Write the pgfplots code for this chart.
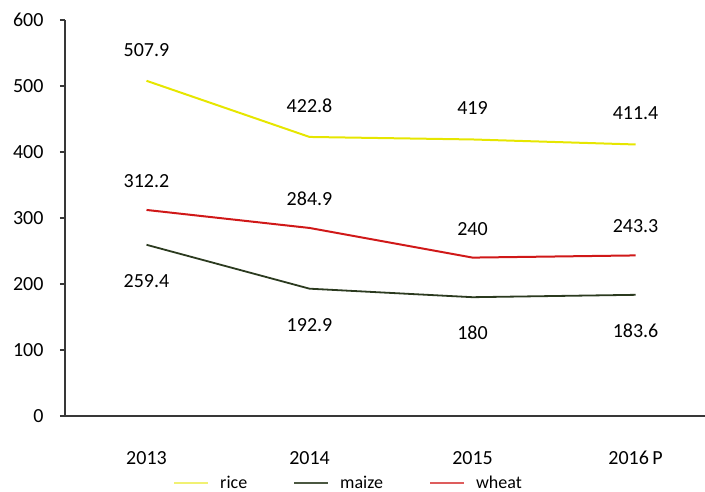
\documentclass[border=0pt]{standalone}
\usepackage{pgfplots}
\pgfplotsset{compat=1.18}
\usepackage{fontspec}
\setmainfont{Carlito}

\definecolor{riceC}{HTML}{E6E600}
\definecolor{maizeC}{HTML}{2B3A1F}
\definecolor{wheatC}{HTML}{D01818}
\definecolor{axisC}{HTML}{383838}

\begin{document}
\begin{tikzpicture}
\begin{axis}[
  scale only axis, width=640pt, height=396pt,
  xmin=-0.5, xmax=3.426, ymin=0, ymax=600,
  axis x line=bottom, axis y line=left,
  axis line style={-, color=axisC, line width=1.4pt},
  clip=false,
  /pgf/number format/assume math mode=true,
  font=\fontsize{20}{24}\selectfont,
  ytick={0,100,...,600},
  ytick style={color=axisC, line width=1.2pt},
  tick align=outside, major tick length=5pt,
  yticklabel style={anchor=east, xshift=-13pt},
  xtick={0,1,2,3},
  xticklabels={2013,2014,2015,2016\,P},
  xtick style={draw=none},
  xticklabel style={anchor=base, yshift=-44pt},
  extra x ticks={-0.5,0.5,1.5,2.5},
  extra x tick labels={},
  extra x tick style={tick style={color=axisC, line width=1.2pt}, major tick length=9pt},
  nodes near coords, point meta=explicit symbolic,
  every node near coord/.append style={anchor=center, font=\fontsize{20}{24}\selectfont, text=black},
  legend columns=3,
  legend style={draw=none, fill=none, at={(0.443,-0.169)}, anchor=center,
    font=\fontsize{18}{21}\selectfont,
    /tikz/every odd column/.append style={column sep=9pt},
    /tikz/every even column/.append style={column sep=44pt}},
  legend image code/.code={\draw[#1] (0pt,0pt) -- (34pt,0pt);},
]
% rice
\addplot[riceC, line width=2pt, forget plot,
  every node near coord/.append style={yshift=31pt}]
  coordinates {(0,507.9)[507.9] (1,422.8)[422.8] (2,419)[419] (3,411.4)[411.4]};
% maize
\addplot[maizeC, line width=1.8pt, forget plot,
  every node near coord/.append style={yshift=-36pt}]
  coordinates {(0,259.4)[259.4] (1,192.9)[192.9] (2,180)[180] (3,183.6)[183.6]};
% wheat
\addplot[wheatC, line width=2pt, forget plot,
  every node near coord/.append style={yshift=29pt}]
  coordinates {(0,312.2)[312.2] (1,284.9)[284.9] (2,240)[240] (3,243.3)[243.3]};

\addlegendimage{color=riceC!55, line width=2pt}
\addlegendentry{rice}
\addlegendimage{color=maizeC!85, line width=2pt}
\addlegendentry{maize}
\addlegendimage{color=wheatC!70, line width=2pt}
\addlegendentry{wheat}

\coordinate (corner) at (rel axis cs:0,0);
\end{axis}
% fixed page frame around the plot area
\pgfresetboundingbox
\useasboundingbox ([shift={(-65pt,-76pt)}]corner) rectangle ++(705pt,492pt);
\end{tikzpicture}
\end{document}
